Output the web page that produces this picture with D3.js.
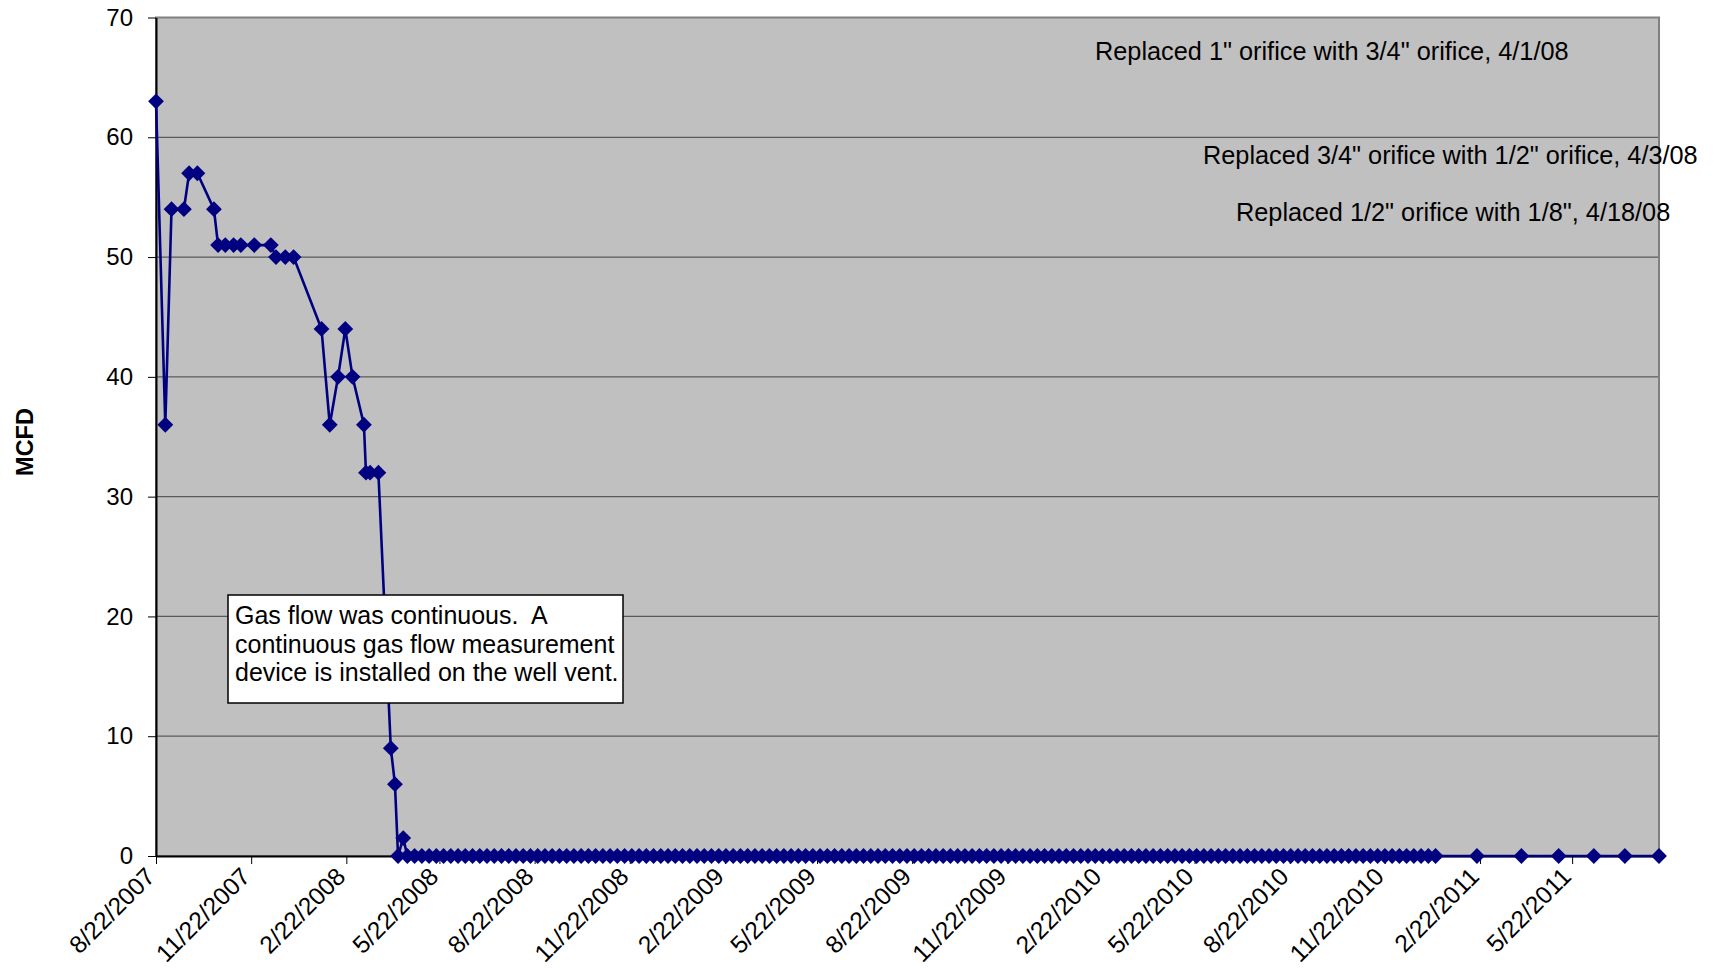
<!DOCTYPE html>
<html>
<head>
<meta charset="utf-8">
<script src="https://cdn.jsdelivr.net/npm/d3@7"></script>
<style>
    body { margin: 0; background: #fff; }
    svg text { font-family: "Liberation Sans", Arial, sans-serif; fill: #000; }
</style>
</head>
<body>
<div id="chart"></div>
<script>
// gas flow readings, early decline before the orifice changes
const rampDates = [
    '2007-08-22', '2007-08-31', '2007-09-06', '2007-09-18', '2007-09-23', '2007-10-01',
    '2007-10-17', '2007-10-21', '2007-10-28', '2007-11-05', '2007-11-12', '2007-11-25',
    '2007-12-11', '2007-12-16', '2007-12-25', '2008-01-02', '2008-01-29', '2008-02-06',
    '2008-02-14', '2008-02-21', '2008-02-28', '2008-03-10', '2008-03-12', '2008-03-16',
    '2008-03-24', '2008-04-05', '2008-04-09', '2008-04-12', '2008-04-17'
];
const rampMcfd = [
    63, 36, 54, 54, 57, 57,
    54, 51, 51, 51, 51, 51,
    51, 50, 50, 50, 44, 36,
    40, 44, 40, 36, 32, 32,
    32, 9, 6, 0, 1.5
];

// weekly readings after shut-in
const weeklyDates = [
    '2008-04-21', '2008-04-28', '2008-05-05', '2008-05-12', '2008-05-19', '2008-05-26', '2008-06-02', '2008-06-09', '2008-06-16', '2008-06-23',
    '2008-06-30', '2008-07-07', '2008-07-14', '2008-07-21', '2008-07-28', '2008-08-04', '2008-08-11', '2008-08-18', '2008-08-25', '2008-09-01',
    '2008-09-08', '2008-09-15', '2008-09-22', '2008-09-29', '2008-10-06', '2008-10-13', '2008-10-20', '2008-10-27', '2008-11-03', '2008-11-10',
    '2008-11-17', '2008-11-24', '2008-12-01', '2008-12-08', '2008-12-15', '2008-12-22', '2008-12-29', '2009-01-05', '2009-01-12', '2009-01-19',
    '2009-01-26', '2009-02-02', '2009-02-09', '2009-02-16', '2009-02-23', '2009-03-02', '2009-03-09', '2009-03-16', '2009-03-23', '2009-03-30',
    '2009-04-06', '2009-04-13', '2009-04-20', '2009-04-27', '2009-05-04', '2009-05-11', '2009-05-18', '2009-05-25', '2009-06-01', '2009-06-08',
    '2009-06-15', '2009-06-22', '2009-06-29', '2009-07-06', '2009-07-13', '2009-07-20', '2009-07-27', '2009-08-03', '2009-08-10', '2009-08-17',
    '2009-08-24', '2009-08-31', '2009-09-07', '2009-09-14', '2009-09-21', '2009-09-28', '2009-10-05', '2009-10-12', '2009-10-19', '2009-10-26',
    '2009-11-02', '2009-11-09', '2009-11-16', '2009-11-23', '2009-11-30', '2009-12-07', '2009-12-14', '2009-12-21', '2009-12-28', '2010-01-04',
    '2010-01-11', '2010-01-18', '2010-01-25', '2010-02-01', '2010-02-08', '2010-02-15', '2010-02-22', '2010-03-01', '2010-03-08', '2010-03-15',
    '2010-03-22', '2010-03-29', '2010-04-05', '2010-04-12', '2010-04-19', '2010-04-26', '2010-05-03', '2010-05-10', '2010-05-17', '2010-05-24',
    '2010-05-31', '2010-06-07', '2010-06-14', '2010-06-21', '2010-06-28', '2010-07-05', '2010-07-12', '2010-07-19', '2010-07-26', '2010-08-02',
    '2010-08-09', '2010-08-16', '2010-08-23', '2010-08-30', '2010-09-06', '2010-09-13', '2010-09-20', '2010-09-27', '2010-10-04', '2010-10-11',
    '2010-10-18', '2010-10-25', '2010-11-01', '2010-11-08', '2010-11-15', '2010-11-22', '2010-11-29', '2010-12-06', '2010-12-13', '2010-12-20',
    '2010-12-27', '2011-01-03', '2011-01-10'
];
const weeklyMcfd = [
    0, 0, 0, 0, 0, 0, 0, 0, 0, 0,
    0, 0, 0, 0, 0, 0, 0, 0, 0, 0,
    0, 0, 0, 0, 0, 0, 0, 0, 0, 0,
    0, 0, 0, 0, 0, 0, 0, 0, 0, 0,
    0, 0, 0, 0, 0, 0, 0, 0, 0, 0,
    0, 0, 0, 0, 0, 0, 0, 0, 0, 0,
    0, 0, 0, 0, 0, 0, 0, 0, 0, 0,
    0, 0, 0, 0, 0, 0, 0, 0, 0, 0,
    0, 0, 0, 0, 0, 0, 0, 0, 0, 0,
    0, 0, 0, 0, 0, 0, 0, 0, 0, 0,
    0, 0, 0, 0, 0, 0, 0, 0, 0, 0,
    0, 0, 0, 0, 0, 0, 0, 0, 0, 0,
    0, 0, 0, 0, 0, 0, 0, 0, 0, 0,
    0, 0, 0, 0, 0, 0, 0, 0, 0, 0,
    0, 0, 0
];

// less frequent readings in 2011
const tailDates = ['2011-02-19', '2011-04-03', '2011-05-09', '2011-06-12', '2011-07-12', '2011-08-14'];
const tailMcfd = [0, 0, 0, 0, 0, 0];

const tickDates = [
    '2007-08-22', '2007-11-22', '2008-02-22', '2008-05-22', '2008-08-22', '2008-11-22',
    '2009-02-22', '2009-05-22', '2009-08-22', '2009-11-22', '2010-02-22', '2010-05-22',
    '2010-08-22', '2010-11-22', '2011-02-22', '2011-05-22'
];
const yTicks = [0, 10, 20, 30, 40, 50, 60, 70];
const yLabel = 'MCFD';

const orificeNotes = [
    'Replaced 1" orifice with 3/4" orifice, 4/1/08',
    'Replaced 3/4" orifice with 1/2" orifice, 4/3/08',
    'Replaced 1/2" orifice with 1/8", 4/18/08'
];
const boxLines = [
    'Gas flow was continuous.  A',
    'continuous gas flow measurement',
    'device is installed on the well vent.'
];

const config = {
    containerWidth: 1715,
    containerHeight: 968,
    margin: {top: 17.5, right: 56, bottom: 112, left: 156}
};

let parse = d3.timeParse('%Y-%m-%d');
let fmt = d3.timeFormat('%-m/%-d/%Y');

let readings = d3.zip(
    [...rampDates, ...weeklyDates, ...tailDates],
    [...rampMcfd, ...weeklyMcfd, ...tailMcfd]
).map(([d, v]) => ({date: parse(d), value: v}));

let width = config.containerWidth - config.margin.left - config.margin.right;
let height = config.containerHeight - config.margin.top - config.margin.bottom;

let svg = d3.select('#chart').append('svg')
    .attr('width', config.containerWidth)
    .attr('height', config.containerHeight);
let chart = svg.append('g')
    .attr('transform', `translate(${config.margin.left}, ${config.margin.top})`);

let xScale = d3.scaleTime()
    .domain(d3.extent(readings, d => d.date))
    .range([0, width]);
let yScale = d3.scaleLinear()
    .domain([0, 70])
    .range([height, 0]);

// plot area
chart.append('rect')
    .attr('width', width)
    .attr('height', height)
    .attr('fill', '#c0c0c0');

chart.append('g').selectAll('line')
    .data(yTicks.filter(t => t > 0 && t < 70))
    .join('line')
        .attr('x1', 0)
        .attr('x2', width)
        .attr('y1', d => yScale(d))
        .attr('y2', d => yScale(d))
        .attr('stroke', '#5a5a5a')
        .attr('stroke-width', 1.3);

chart.append('rect')
    .attr('width', width)
    .attr('height', height)
    .attr('fill', 'none')
    .attr('stroke', '#808080')
    .attr('stroke-width', 2);

// axes
let yAxisGroup = chart.append('g')
    .call(d3.axisLeft(yScale).tickValues(yTicks).tickSize(8).tickSizeOuter(0).tickPadding(15));
yAxisGroup.select('.domain').attr('stroke', '#000').attr('stroke-width', 2);
yAxisGroup.selectAll('.tick line').attr('stroke', '#000');
yAxisGroup.selectAll('.tick text')
    .style('font-size', '24px')
    .attr('font-family', null);

let xAxisGroup = chart.append('g')
    .attr('transform', `translate(0, ${height})`)
    .call(d3.axisBottom(xScale).tickValues(tickDates.map(parse)).tickFormat(fmt).tickSize(8).tickSizeOuter(0));
xAxisGroup.select('.domain').attr('stroke', '#000').attr('stroke-width', 2);
xAxisGroup.selectAll('.tick line').attr('stroke', '#000');
xAxisGroup.selectAll('.tick text')
    .attr('x', 0)
    .attr('y', 0)
    .attr('dy', 0)
    .attr('text-anchor', 'end')
    .attr('transform', 'translate(0, 22) rotate(-45)')
    .style('font-size', '24.5px');

svg.append('text')
    .attr('transform', `translate(33, 442) rotate(-90)`)
    .attr('text-anchor', 'middle')
    .style('font-size', '23.5px')
    .style('font-weight', 'bold')
    .text(yLabel);

// series
let line = d3.line()
    .x(d => xScale(d.date))
    .y(d => yScale(d.value));

chart.append('path')
    .datum(readings)
    .attr('d', line)
    .attr('fill', 'none')
    .attr('stroke', '#000080')
    .attr('stroke-width', 2.6);

let diamond = d3.symbol(d3.symbolSquare, 125)();
chart.append('g').selectAll('path')
    .data(readings)
    .join('path')
        .attr('d', diamond)
        .attr('transform', d => `translate(${xScale(d.date)}, ${yScale(d.value)}) rotate(45)`)
        .attr('fill', '#000080');

// annotations
const notePos = [[1095, 59.5], [1203, 164], [1236, 221]];
svg.append('g').selectAll('text')
    .data(orificeNotes)
    .join('text')
        .attr('x', (d, i) => notePos[i][0])
        .attr('y', (d, i) => notePos[i][1])
        .style('font-size', '25.3px')
        .text(d => d);

let box = svg.append('g').attr('transform', 'translate(228, 595)');
box.append('rect')
    .attr('width', 395)
    .attr('height', 108)
    .attr('fill', '#fff')
    .attr('stroke', '#000')
    .attr('stroke-width', 1.5);
box.selectAll('text')
    .data(boxLines)
    .join('text')
        .attr('x', 7)
        .attr('y', (d, i) => 29 + i * 28.7)
        .style('font-size', '25px')
        .style('white-space', 'pre')
        .attr('xml:space', 'preserve')
        .text(d => d);
</script>
</body>
</html>
